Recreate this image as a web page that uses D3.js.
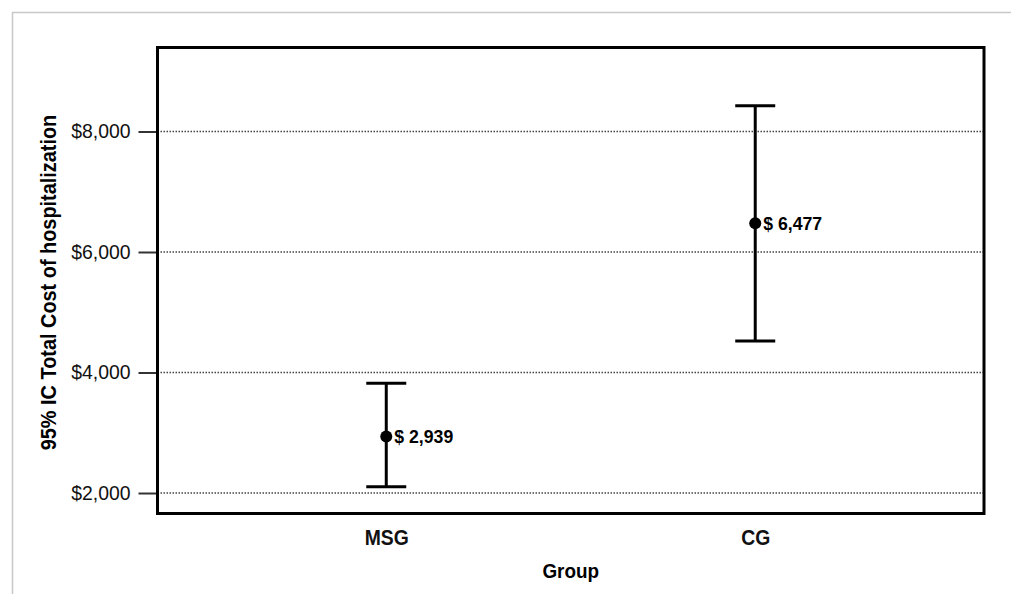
<!DOCTYPE html>
<html>
<meta charset="utf-8">
<title>95% IC Total Cost of hospitalization</title>
<style>
  body { margin: 0; background: #fff; }
  text { font-family: "Liberation Sans Narrow", "Arial Narrow", "Liberation Sans", sans-serif; }
</style>
<body>
<div id="chart"></div>
<script src="https://d3js.org/d3.v7.min.js"></script>
<script>
// data
var groups = ["MSG", "CG"];
var means = [2939, 6477];
var lower = [2105, 4523];
var upper = [3821, 8428];
var yTicks = [2000, 4000, 6000, 8000];

var W = 1011, H = 594;
var box = {left: 157.5, top: 47.5, right: 984, bottom: 513.5};

var svg = d3.select("#chart").append("svg")
  .attr("width", W).attr("height", H);

// squeeze text a bit, the original uses a narrow face
function condense(sel, k) {
  sel.each(function () {
    var len = this.getComputedTextLength();
    d3.select(this).attr("textLength", len * k).attr("lengthAdjust", "spacingAndGlyphs");
  });
}

// light frame round the figure
svg.append("path")
  .attr("d", "M12.5," + H + "V12.5H" + W)
  .attr("fill", "none").attr("stroke", "#c8c8c8").attr("stroke-width", 1.5);

var x = d3.scalePoint().domain(groups)
  .range([box.left, box.right]).padding(0.62);
var y = d3.scaleLinear().domain([1660, 9394])
  .range([box.bottom, box.top]);

// gridlines, dotted
svg.append("g").selectAll("line").data(yTicks).join("line")
  .attr("x1", box.left).attr("x2", box.right)
  .attr("y1", d => y(d)).attr("y2", d => y(d))
  .attr("stroke", "#444").attr("stroke-width", 1.3)
  .attr("stroke-dasharray", "1.5,1.5");

// y axis
var yAxis = svg.append("g")
  .attr("transform", "translate(" + box.left + ",0)")
  .call(d3.axisLeft(y).tickValues(yTicks).tickSize(19).tickPadding(8)
    .tickFormat(d => "$" + d3.format(",")(d)));
yAxis.select(".domain").remove();
yAxis.selectAll(".tick line").attr("stroke", "#333").attr("stroke-width", 2);
yAxis.selectAll(".tick text")
  .style("font-size", "20px").attr("fill", "#111")
  .call(condense, 0.97);

// x axis labels
var xAxis = svg.append("g")
  .attr("transform", "translate(0," + box.bottom + ")")
  .call(d3.axisBottom(x).tickSize(0).tickPadding(16));
xAxis.select(".domain").remove();
xAxis.selectAll(".tick text")
  .style("font-size", "21.5px").style("font-weight", "bold").attr("fill", "#111")
  .call(condense, 0.9);

// axis titles
svg.append("text")
  .attr("x", (box.left + box.right) / 2).attr("y", 578)
  .attr("text-anchor", "middle")
  .style("font-size", "21px").style("font-weight", "bold")
  .text("Group")
  .call(condense, 0.9);

svg.append("text")
  .attr("transform", "translate(55.5," + ((box.top + box.bottom) / 2 + 2) + ") rotate(-90)")
  .attr("text-anchor", "middle")
  .style("font-size", "21.5px").style("font-weight", "bold")
  .text("95% IC Total Cost of hospitalization")
  .call(condense, 0.925);

// error bars
var bars = svg.append("g").selectAll("g").data(groups).join("g");
bars.append("line")
  .attr("x1", d => x(d)).attr("x2", d => x(d))
  .attr("y1", (d, i) => y(lower[i])).attr("y2", (d, i) => y(upper[i]))
  .attr("stroke", "#000").attr("stroke-width", 3);
bars.append("line")
  .attr("x1", d => x(d) - 20).attr("x2", d => x(d) + 20)
  .attr("y1", (d, i) => y(upper[i])).attr("y2", (d, i) => y(upper[i]))
  .attr("stroke", "#000").attr("stroke-width", 3);
bars.append("line")
  .attr("x1", d => x(d) - 20).attr("x2", d => x(d) + 20)
  .attr("y1", (d, i) => y(lower[i])).attr("y2", (d, i) => y(lower[i]))
  .attr("stroke", "#000").attr("stroke-width", 3);
bars.append("circle")
  .attr("cx", d => x(d)).attr("cy", (d, i) => y(means[i]))
  .attr("r", 6).attr("fill", "#000");
bars.append("text")
  .attr("x", d => x(d) + 8).attr("y", (d, i) => y(means[i]))
  .attr("dy", "0.36em")
  .style("font-size", "19px").style("font-weight", "bold")
  .text((d, i) => "$ " + d3.format(",")(means[i]))
  .call(condense, 0.93);

// plot frame
svg.append("rect")
  .attr("x", box.left).attr("y", box.top)
  .attr("width", box.right - box.left).attr("height", box.bottom - box.top)
  .attr("fill", "none").attr("stroke", "#000").attr("stroke-width", 3);
</script>
</body>
</html>
